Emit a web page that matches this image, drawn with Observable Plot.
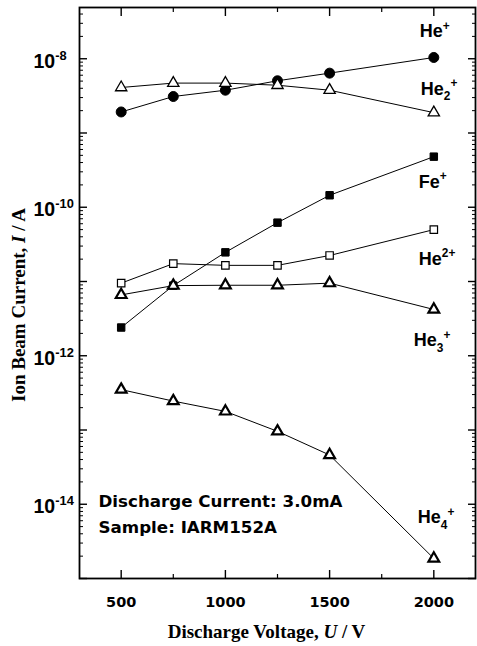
<!DOCTYPE html>
<html><head><meta charset="utf-8">
<script src="https://cdn.jsdelivr.net/npm/d3@7"></script>
<script src="https://cdn.jsdelivr.net/npm/@observablehq/plot@0.6"></script>
<style>body{margin:0;background:#fff}</style>
</head><body><div id="chart"></div>
<script>
// ---- data ----
const voltage = [500, 750, 1000, 1250, 1500, 2000];
const heP     = [1.92e-9, 3.1e-9, 3.77e-9, 5.05e-9, 6.4e-9, 1.04e-8];
const he2P    = [4.1e-9, 4.7e-9, 4.7e-9, 4.4e-9, 3.77e-9, 1.88e-9];
const feP     = [2.4e-12, 8.8e-12, 2.47e-11, 6.2e-11, 1.45e-10, 4.8e-10];
const heDP    = [9.5e-12, 1.74e-11, 1.65e-11, 1.65e-11, 2.24e-11, 5.0e-11];
const he3P    = [6.6e-12, 8.8e-12, 8.9e-12, 8.9e-12, 9.5e-12, 4.2e-12];
const he4P    = [3.5e-13, 2.45e-13, 1.78e-13, 9.6e-14, 4.6e-14, 1.86e-15];
const seriesLabels = ["He^+", "He_2^+", "Fe^+", "He^{2+}", "He_3^+", "He_4^+"];
const xMajor = [500, 1000, 1500, 2000];
const xMinor = [750, 1250, 1750];
const yLabelExps = [-8, -10, -12, -14];
const annotation = ["Discharge Current: 3.0mA", "Sample: IARM152A"];
const xTitle = "Discharge Voltage, *U* / V";
const yTitle = "Ion Beam Current, *I* / A";

// ---- styles ----
const series = [
  {name: seriesLabels[0], values: heP,  symbol: "circle",   fill: "black", sw: 1,   r: 5,   dx: -14, dy: -20},
  {name: seriesLabels[1], values: he2P, symbol: "triangle", fill: "white", sw: 1.3, r: 4.2, dx: -13, dy: -18},
  {name: seriesLabels[2], values: feP,  symbol: "square",   fill: "black", sw: 1,   r: 4.2, dx: -15, dy: 31},
  {name: seriesLabels[3], values: heDP, symbol: "square",   fill: "white", sw: 1.2, r: 4.2, dx: -15, dy: 35},
  {name: seriesLabels[4], values: he3P, symbol: "triangle", fill: "white", sw: 2.2, r: 4,   dx: -20, dy: 37},
  {name: seriesLabels[5], values: he4P, symbol: "triangle", fill: "white", sw: 2.2, r: 4,   dx: -16, dy: -35}
];
const rows = series.flatMap(s => voltage.map((v, i) => ({series: s.name, x: v, y: s.values[i]})));

const yDomain = [1e-15, 4.9e-8];
const yMajor = d3.range(-15, -7).map(e => Math.pow(10, e));
const yMinor = d3.scaleLog().domain(yDomain).ticks(40).filter(v => {
  const l = Math.log10(v); return Math.abs(l - Math.round(l)) > 1e-6;
});

const marks = [
  Plot.frame({stroke: "black", strokeWidth: 1.8}),
  Plot.axisX({anchor: "bottom", ticks: xMajor, tickSize: -8, fill: "none", strokeWidth: 1.4}),
  Plot.axisX({anchor: "top", ticks: xMajor, tickSize: -8, fill: "none", strokeWidth: 1.4}),
  Plot.axisX({anchor: "bottom", ticks: xMinor, tickSize: -4, fill: "none", strokeWidth: 1.2}),
  Plot.axisX({anchor: "top", ticks: xMinor, tickSize: -4, fill: "none", strokeWidth: 1.2}),
  Plot.axisY({anchor: "left", ticks: yMajor, tickSize: -8, fill: "none", strokeWidth: 1.4}),
  Plot.axisY({anchor: "right", ticks: yMajor, tickSize: -8, fill: "none", strokeWidth: 1.4}),
  Plot.axisY({anchor: "left", ticks: yMinor, tickSize: -4, fill: "none", strokeWidth: 1}),
  Plot.axisY({anchor: "right", ticks: yMinor, tickSize: -4, fill: "none", strokeWidth: 1}),
  Plot.text(xMajor, {x: d => d, frameAnchor: "bottom", dy: 24, text: d => String(d),
    fontFamily: "DejaVu Sans", fontWeight: "bold", fontSize: 14.5, fill: "black", lineAnchor: "middle"}),
  Plot.text(yLabelExps, {y: d => Math.pow(10, d), frameAnchor: "left", dx: -46, dy: 3, textAnchor: "start",
    text: d => `10^{${d}}`, fontFamily: "Liberation Sans", fontWeight: "bold", fontSize: 19.5, fill: "black",
    lineAnchor: "middle"})
];
for (const s of series) {
  const d = rows.filter(r => r.series === s.name);
  marks.push(Plot.line(d, {x: "x", y: "y", stroke: "black", strokeWidth: 1}));
}
for (const s of series) {
  const d = rows.filter(r => r.series === s.name);
  marks.push(Plot.dot(d, {x: "x", y: "y", symbol: s.symbol, r: s.r, fill: s.fill,
    stroke: "black", strokeWidth: s.sw}));
  const last = d[d.length - 1];
  marks.push(Plot.text([last], {x: "x", y: "y", text: () => s.name, dx: s.dx, dy: s.dy,
    textAnchor: "start", lineAnchor: "bottom", fontFamily: "Liberation Sans", fontWeight: "bold",
    fontSize: 18, fill: "black"}));
}
marks.push(
  Plot.text([annotation[0]], {frameAnchor: "bottom-left", dx: 19, dy: -72, textAnchor: "start",
    lineAnchor: "bottom", fontFamily: "DejaVu Sans", fontWeight: "bold", fontSize: 16.7, fill: "black"}),
  Plot.text([annotation[1]], {frameAnchor: "bottom-left", dx: 19, dy: -46, textAnchor: "start",
    lineAnchor: "bottom", fontFamily: "DejaVu Sans", fontWeight: "bold", fontSize: 16.7, fill: "black"}),
  Plot.text([xTitle], {frameAnchor: "bottom", dx: -11, dy: 59, lineAnchor: "bottom", textAnchor: "middle",
    fontFamily: "Liberation Serif", fontWeight: "bold", fontSize: 19, fill: "black"}),
  Plot.text([yTitle], {frameAnchor: "left", dx: -61, dy: 12, rotate: -90, textAnchor: "middle",
    fontFamily: "Liberation Serif", fontWeight: "bold", fontSize: 19, fill: "black"})
);

const svg = Plot.plot({
  width: 477, height: 646,
  marginLeft: 79, marginRight: 2, marginTop: 7, marginBottom: 68,
  x: {domain: [300, 2200]},
  y: {type: "log", domain: yDomain},
  style: {background: "white", color: "black", overflow: "visible"},
  marks
});
document.getElementById("chart").appendChild(svg);

// rich text: ^ superscript, _ subscript, *italic*
function parse(s) {
  const out = []; let buf = "";
  const flush = () => { if (buf) { out.push({t: buf, k: "n"}); buf = ""; } };
  for (let i = 0; i < s.length; i++) {
    const c = s[i];
    if (c === "^" || c === "_") {
      flush(); let t;
      if (s[i + 1] === "{") { const j = s.indexOf("}", i); t = s.slice(i + 2, j); i = j; }
      else { t = s[i + 1]; i++; }
      out.push({t, k: c === "^" ? "sup" : "sub"});
    } else if (c === "*") {
      flush(); const j = s.indexOf("*", i + 1); out.push({t: s.slice(i + 1, j), k: "it"}); i = j;
    } else buf += c;
  }
  flush(); return out;
}
d3.select(svg).selectAll("text").each(function () {
  const el = this; const s = el.textContent;
  if (!/[\^_*]/.test(s) || el.querySelector("tspan")) return;
  const fs = parseFloat(getComputedStyle(el).fontSize);
  const segs = parse(s);
  el.textContent = "";
  let cur = 0;
  for (const g of segs) {
    const target = g.k === "sup" ? -0.42 * fs : g.k === "sub" ? 0.32 * fs : 0;
    const ts = document.createElementNS("http://www.w3.org/2000/svg", "tspan");
    ts.textContent = g.t;
    if (target !== cur) ts.setAttribute("dy", target - cur);
    cur = target;
    if (g.k === "sup" || g.k === "sub") ts.setAttribute("font-size", 0.66 * fs);
    if (g.k === "it") ts.setAttribute("font-style", "italic");
    el.appendChild(ts);
  }
});
</script></body></html>
